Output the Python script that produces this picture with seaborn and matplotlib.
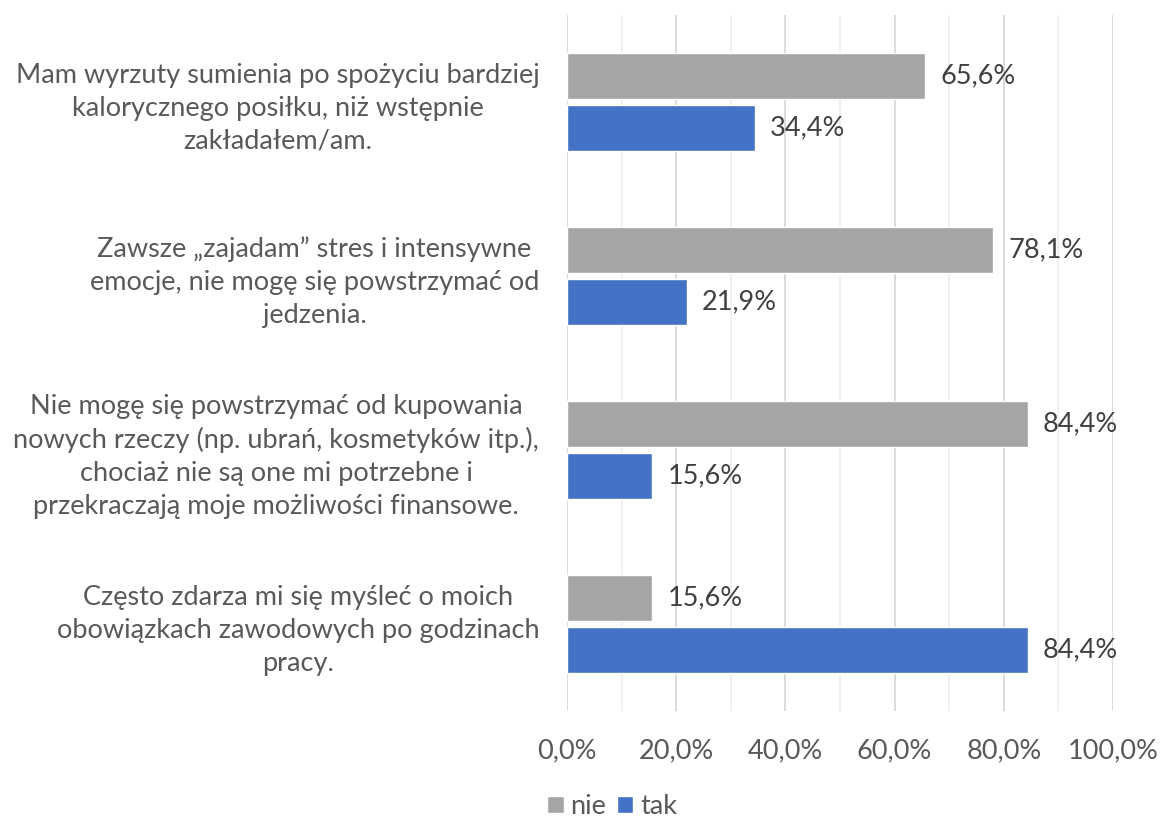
import matplotlib
matplotlib.use("Agg")
import matplotlib.pyplot as plt
import seaborn as sns
import pandas as pd
from matplotlib.ticker import MultipleLocator, FixedLocator
from matplotlib.patches import Patch

categories = [
    "Mam wyrzuty sumienia po spożyciu bardziej\nkalorycznego posiłku, niż wstępnie\nzakładałem/am.",
    "Zawsze „zajadam” stres i intensywne\nemocje, nie mogę się powstrzymać od\njedzenia.",
    "Nie mogę się powstrzymać od kupowania\nnowych rzeczy (np. ubrań, kosmetyków itp.),\nchociaż nie są one mi potrzebne i\nprzekraczają moje możliwości finansowe.",
    "Często zdarza mi się myśleć o moich\nobowiązkach zawodowych po godzinach\npracy.",
]
series_names = ["nie", "tak"]
nie_values = [65.6, 78.1, 84.4, 15.6]
tak_values = [34.4, 21.9, 15.6, 84.4]
x_ticks = [0, 20, 40, 60, 80, 100]
x_tick_labels = ["0,0%", "20,0%", "40,0%", "60,0%", "80,0%", "100,0%"]

rows = []
for c, n, t in zip(categories, nie_values, tak_values):
    rows.append({"kategoria": c, "odp": "nie", "val": n})
    rows.append({"kategoria": c, "odp": "tak", "val": t})
df = pd.DataFrame(rows)

sns.set_theme(style="white")
plt.rcParams["font.family"] = ["Lato", "DejaVu Sans"]

fig = plt.figure(figsize=(11.62, 8.19), dpi=100)
ax = fig.add_axes([567 / 1162, 1 - 711 / 819, (1113 - 567) / 1162, (711 - 15) / 819])

palette = {"nie": "#A5A5A5", "tak": "#4472C4"}
sns.barplot(data=df, y="kategoria", x="val", hue="odp", order=categories,
            hue_order=series_names, palette=palette, orient="h",
            width=0.6, gap=0.11, ax=ax, legend=False, saturation=1)

ax.set_xlim(0, 100)
ax.set_ylim(3.5, -0.5)
ax.xaxis.set_major_locator(FixedLocator(x_ticks))
ax.set_xticklabels(x_tick_labels)
ax.xaxis.set_minor_locator(MultipleLocator(10))
ax.grid(False)
ax.grid(True, axis="x", which="major", color="#D9D9D9", linewidth=1.3)
ax.grid(True, axis="x", which="minor", color="#EFEFEF", linewidth=1.3)
ax.set_axisbelow(True)
for s in ax.spines.values():
    s.set_visible(False)
ax.set_xlabel("")
ax.set_ylabel("")
ax.tick_params(axis="x", which="both", length=0, pad=20, labelsize=19.5, labelcolor="#595959")
ax.tick_params(axis="y", length=0, pad=20, labelsize=19.5, labelcolor="#595959")
for lab in ax.get_yticklabels():
    lab.set_multialignment("center")
    lab.set_linespacing(1.4)

fmt = lambda v: f"{v:.1f}%".replace(".", ",")
for cont in ax.containers:
    ax.bar_label(cont, labels=[fmt(v) for v in cont.datavalues], padding=11,
                 fontsize=19.5, color="#404040")

handles = [Patch(facecolor=palette[n], label=n) for n in series_names]
fig.legend(handles=handles, loc="lower center", bbox_to_anchor=(0.527, -0.03), ncol=2,
           frameon=False, fontsize=19.5, handlelength=0.6, handleheight=0.6,
           handletextpad=0.25, columnspacing=0.4, labelcolor="#595959")

fig.savefig("out.png", dpi=100)
